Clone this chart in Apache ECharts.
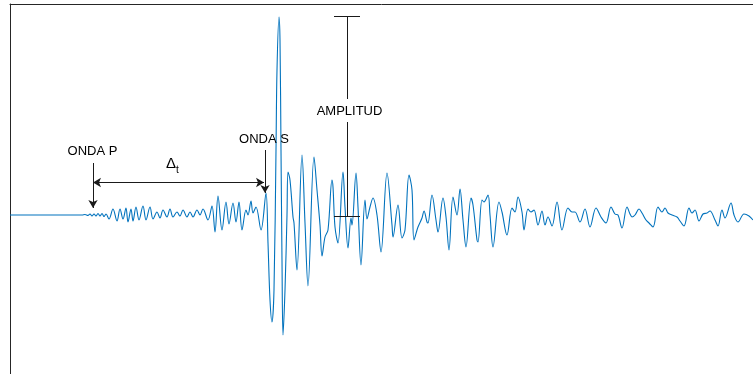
<!DOCTYPE html>
<html>
<head>
<meta charset="utf-8">
<script src="https://cdn.jsdelivr.net/npm/echarts@6/dist/echarts.min.js"></script>
<style>
  html, body { margin: 0; padding: 0; background: #fff; }
  #chart { width: 753px; height: 374px; }
</style>
</head>
<body>
<div id="chart"></div>
<script>
// seismogram trace (time in samples, amplitude in counts)
const time = [
  0, 72, 75, 78, 80, 82, 84, 86, 88, 90, 92, 94, 96, 99,
  103, 107, 110, 113, 116, 118, 121, 123, 126, 129, 133, 136, 140, 143, 147, 150,
  153, 157, 160, 163, 167, 170, 173, 177, 180, 183, 187, 190, 193, 198, 202, 205,
  208, 212, 216, 219, 223, 226, 229, 232, 236, 238, 241, 243, 246, 251, 256, 258,
  260, 262, 264, 266, 267, 269, 270, 271, 272, 273, 275, 277, 278, 280, 283, 284,
  287, 292, 295, 298, 304, 307, 310, 312, 315, 318, 322, 323, 325, 328, 333, 335,
  338, 341, 342, 346, 348, 351, 355, 357, 360, 363, 367, 371, 377, 382, 383, 388,
  392, 395, 399, 402, 404, 408, 412, 414, 417, 418, 422, 426, 428, 433, 436, 439,
  443, 447, 450, 453, 456, 461, 463, 467, 468, 472, 474, 478, 480, 483, 489, 492,
  497, 502, 505, 508, 512, 514, 518, 521, 524, 528, 532, 535, 538, 542, 547, 552,
  558, 562, 565, 570, 575, 580, 586, 591, 596, 601, 605, 608, 612, 617, 620, 622,
  625, 629, 632, 636, 639, 643, 648, 652, 655, 658, 662, 667, 670, 674, 679, 682,
  685, 689, 693, 697, 700, 705, 708, 712, 715, 721, 724, 728, 734, 739, 743
];
const amplitude = [
  0, 0, 0.5, -0.5, 1, -1, 1, -1, 1.5, -1, 1.5, -1.5, 1, -4,
  6, -6, 6, -4, 7, -7, 6, -6, 8, -5, 9, -5, 8, -4, 3, -3,
  5, -2, 6, -2, 3, -1, 5, -2, 3, -2, 5, 0, 6, -5, 9, -17,
  19, -15, 13, -9, 12, -7, 13, -15, 5, 0, 14, 2, 8, -15, 22, -28,
  -85, -107, -75, 65, 145, 198, 175, 65, -45, -120, -75, 0, 43, 35, -2, -8,
  -55, 60, -8, -71, 58, 25, -10, -41, -22, -15, 35, 28, -12, -28, 43, 8,
  -33, -3, -10, 42, 8, -50, 15, -4, 8, 17, 0, -37, 42, -10, -22, 10,
  -23, -15, 40, 25, -25, -12, -3, 4, -7, -8, 20, -5, -17, 17, -2, -35,
  18, 0, 26, -5, -32, 17, 10, -25, -27, 15, 13, 20, 0, -32, 13, 3,
  -20, 7, 3, 18, 3, -15, 6, 3, 5, -10, 4, -10, -2, -11, 13, -15,
  7, 3, 3, -7, 6, -12, 7, -2, -8, 8, 1, 0, -13, 8, 1, -2,
  0, 6, 2, -5, -8, -12, 8, 3, 7, 2, 0, -2, -6, -11, 7, 2,
  5, -6, 1, 2, 4, -5, -11, 5, -3, 12, 0, -7, 1, -1, -5
];

// annotation geometry, in the same data units as the trace
const arrowP   = [[83, 52], [83, 7]];
const arrowDt  = [[83, 32.5], [254, 32.5]];
const arrowS   = [[255, 65], [255, 22]];
const ampLine  = [[[337, 199], [337, 116]], [[337, 93], [337, -1]]];
const ampCaps  = [[[324, 199], [350, 199]], [[324, -1], [350, -1]]];
const labels   = [
  { name: 'ONDA P',   at: [82.5, 63.5], size: 13 },
  { name: 'Δ',        at: [161, 51],    size: 15 },
  { name: 't',        at: [167.5, 45],  size: 10 },
  { name: 'ONDA S',   at: [254, 76],    size: 13 },
  { name: 'AMPLITUD', at: [339.5, 104], size: 13 }
];

const trace = time.map((t, i) => [t, amplitude[i]]);

const seg = (a, b, s0, s1) => [
  { coord: a, symbol: s0 },
  { coord: b, symbol: s1 }
];

const lineMarks = [
  seg(arrowP[0], arrowP[1], 'none', 'arrow'),
  seg(arrowDt[0], arrowDt[1], 'arrow', 'arrow'),
  seg(arrowS[0], arrowS[1], 'none', 'arrow'),
  ...ampLine.map(l => seg(l[0], l[1], 'none', 'none')),
  ...ampCaps.map(l => seg(l[0], l[1], 'none', 'none'))
];

const textMarks = labels.map(l => ({
  name: l.name,
  coord: l.at,
  label: { fontSize: l.size }
}));

const chart = echarts.init(document.getElementById('chart'), null, { renderer: 'canvas' });

chart.setOption({
  animation: false,
  backgroundColor: '#fff',
  grid: { left: 10, top: 4, width: 743, height: 370 },
  xAxis: {
    type: 'value', min: 0, max: 743, position: 'top',
    axisLine: { show: true, onZero: false, lineStyle: { color: '#262626', width: 1 } },
    axisTick: { show: false }, axisLabel: { show: false }, splitLine: { show: false }
  },
  yAxis: {
    type: 'value', min: -159, max: 211,
    axisLine: { show: true, onZero: false, lineStyle: { color: '#262626', width: 1 } },
    axisTick: { show: false }, axisLabel: { show: false }, splitLine: { show: false }
  },
  series: [{
    type: 'line',
    data: trace,
    showSymbol: false,
    symbol: 'none',
    smooth: 0.35,
    lineStyle: { color: '#0072bd', width: 1.1 },
    markLine: {
      silent: true,
      symbolSize: [7, 8],
      label: { show: false },
      lineStyle: { color: '#1a1a1a', width: 1, type: 'solid' },
      emphasis: { disabled: true },
      data: lineMarks
    },
    markPoint: {
      silent: true,
      symbol: 'rect',
      symbolSize: 1,
      itemStyle: { color: 'rgba(0,0,0,0)' },
      label: {
        show: true, position: 'inside', formatter: '{b}',
        color: '#000', fontFamily: 'Liberation Sans, Arial, sans-serif', fontSize: 13
      },
      data: textMarks
    }
  }]
});
</script>
</body>
</html>
